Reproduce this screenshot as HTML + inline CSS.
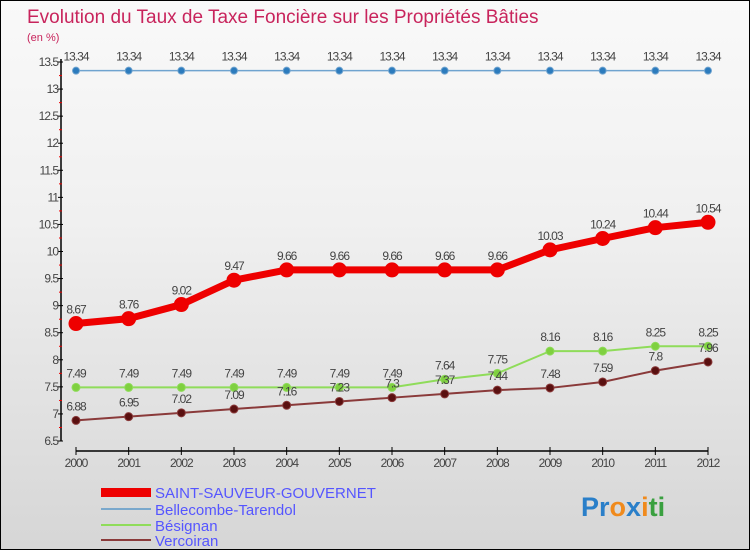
<!DOCTYPE html>
<html><head><meta charset="utf-8"><style>
body{margin:0;width:750px;height:550px;overflow:hidden;font-family:"Liberation Sans",sans-serif}
#c{position:absolute;left:0;top:0;width:748px;height:548px;border:1px solid #000;background:linear-gradient(#f9f9f9,#f0f0f0 40%,#d6d6d6)}
</style></head><body>
<div id="c">
<svg id="s" width="748" height="548" xmlns="http://www.w3.org/2000/svg" style="position:absolute;left:0;top:0">
<text x="26" y="22" font-size="19" fill="#c8245c">Evolution du Taux de Taxe Foncière sur les Propriétés Bâties</text>
<text x="26" y="40" font-size="11" fill="#c8245c">(en %)</text>
<g id="axes"></g><g id="series"></g>
<g id="legend" font-size="15" fill="#5555ff">
<rect x="100" y="487" width="50" height="9" fill="#e00"/>
<text x="154" y="497" fill="#5555ff">SAINT-SAUVEUR-GOUVERNET</text>
<line x1="100" y1="508" x2="150" y2="508" stroke="#7aa8cc" stroke-width="2"/>
<text x="154" y="514" fill="#5555ff">Bellecombe-Tarendol</text>
<line x1="100" y1="524" x2="150" y2="524" stroke="#8fdc5a" stroke-width="2"/>
<text x="154" y="530" fill="#5555ff">Bésignan</text>
<line x1="100" y1="539" x2="150" y2="539" stroke="#8a3a3a" stroke-width="2"/>
<text x="154" y="545" fill="#5555ff">Vercoiran</text>
</g>
<text x="580" y="515" font-size="27" font-weight="bold"><tspan fill="#2a7fc9">Pr</tspan><tspan fill="#f08a1c">o</tspan><tspan fill="#2a7fc9">x</tspan><tspan fill="#f08a1c">i</tspan><tspan fill="#3aa040">ti</tspan></text>
</svg></div>
<script>
const years=[2000,2001,2002,2003,2004,2005,2006,2007,2008,2009,2010,2011,2012];
const yTicks=[6.5,7,7.5,8,8.5,9,9.5,10,10.5,11,11.5,12,12.5,13,13.5];
const saint=[8.67,8.76,9.02,9.47,9.66,9.66,9.66,9.66,9.66,10.03,10.24,10.44,10.54];
const bellecombe=[13.34,13.34,13.34,13.34,13.34,13.34,13.34,13.34,13.34,13.34,13.34,13.34,13.34];
const besignan=[7.49,7.49,7.49,7.49,7.49,7.49,7.49,7.64,7.75,8.16,8.16,8.25,8.25];
const vercoiran=[6.88,6.95,7.02,7.09,7.16,7.23,7.3,7.37,7.44,7.48,7.59,7.8,7.96];
const NS="http://www.w3.org/2000/svg";
const xS=i=>75+i*(707-75)/(years.length-1);
const yS=v=>440-(v-6.5)*(440-61)/7;
function mk(p,t,a){const e=document.createElementNS(NS,t);for(const k in a)e.setAttribute(k,a[k]);p.appendChild(e);return e;}
const ax=document.getElementById('axes');
let l=mk(ax,'line',{x1:60,y1:58,x2:60,y2:440,stroke:'#000','stroke-width':1.5});


l=mk(ax,'line',{x1:75,y1:450,x2:707,y2:450,stroke:'#000','stroke-width':1.5});


yTicks.forEach((v,i)=>{
 const y=yS(v);
 mk(ax,'line',{x1:57,y1:y,x2:62,y2:y,stroke:'#000'});
 if(i<yTicks.length-1)mk(ax,'line',{x1:58,y1:y-13.5,x2:61,y2:y-13.5,stroke:'#e00'});
 const t=mk(ax,'text',{x:57,y:y+4,'text-anchor':'end','font-size':12,fill:'#444','letter-spacing':'-1'});
 t.textContent=v;
 
 
});
years.forEach((yr,i)=>{
 const x=xS(i);
 mk(ax,'line',{x1:x,y1:446,x2:x,y2:454,stroke:'#000'});
 const t=mk(ax,'text',{x:x,y:466,'text-anchor':'middle','font-size':12,fill:'#444','letter-spacing':'-1'});
 t.textContent=yr;
 
 
});
const sg=document.getElementById('series');
function draw(data,color,w,r,name,dot){
 const pl=mk(sg,'polyline',{points:data.map((v,i)=>xS(i)+','+yS(v)).join(' '),fill:'none',stroke:color,'stroke-width':w,'stroke-linejoin':'round'});
 
 
 data.forEach((v,i)=>{
  const c=mk(sg,'circle',{cx:xS(i),cy:yS(v),r:r,fill:dot,stroke:color,'stroke-width':1});
  
  
  const t=mk(sg,'text',{x:xS(i),y:yS(v)-10,'text-anchor':'middle','font-size':12,fill:'#444','letter-spacing':'-1'});
  t.textContent=v;
  
  
 });
}
draw(bellecombe,'#6fa3cf',1.5,3.5,'bellecombe','#2c7bbd');
draw(besignan,'#8fdc5a',2,4,'besignan','#7fd040');
draw(vercoiran,'#8a3a3a',2,4,'vercoiran','#5a1010');
draw(saint,'#e00',7,7,'saint-sauveur','#e00');
</script>
</body></html>
